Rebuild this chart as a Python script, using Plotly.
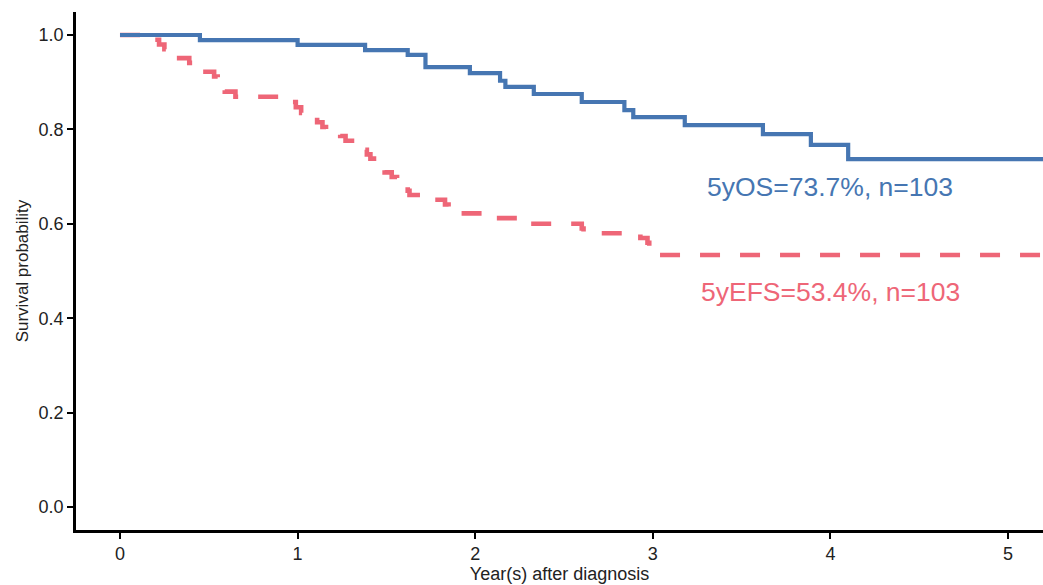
import plotly.graph_objects as go

# Overall survival (Kaplan-Meier steps)
os_time = [0, 0.45, 1.00, 1.38, 1.62, 1.72, 1.97, 2.14, 2.17, 2.33, 2.60, 2.84, 2.89, 3.18, 3.62, 3.89, 4.10, 5.30]
os_surv = [1.0, 0.989, 0.979, 0.968, 0.958, 0.932, 0.919, 0.903, 0.890, 0.875, 0.858, 0.841, 0.826, 0.809, 0.790, 0.767, 0.737, 0.737]

# Event-free survival
efs_time = [0, 0.19, 0.22, 0.25, 0.28, 0.31, 0.39, 0.43, 0.46, 0.53, 0.55, 0.57, 0.59, 0.65,
            0.93, 0.99, 1.02, 1.08, 1.11, 1.14, 1.16, 1.24, 1.27, 1.33, 1.37, 1.39, 1.41, 1.43,
            1.47, 1.49, 1.53, 1.56, 1.60, 1.62, 1.63, 1.75, 1.83, 1.85, 1.92, 2.10, 2.30,
            2.60, 2.61, 2.93, 2.97, 2.98, 2.99, 3.02, 5.30]
efs_surv = [1.0, 0.990, 0.980, 0.970, 0.960, 0.951, 0.941, 0.932, 0.922, 0.912, 0.902, 0.892, 0.880, 0.869,
            0.858, 0.847, 0.835, 0.825, 0.815, 0.805, 0.795, 0.786, 0.776, 0.767, 0.757, 0.747, 0.738, 0.728,
            0.718, 0.709, 0.699, 0.690, 0.680, 0.670, 0.661, 0.651, 0.641, 0.632, 0.622, 0.612, 0.600,
            0.590, 0.580, 0.570, 0.560, 0.550, 0.544, 0.534, 0.534]

x_ticks = [0, 1, 2, 3, 4, 5]
y_ticks = [0.0, 0.2, 0.4, 0.6, 0.8, 1.0]
y_tick_labels = ["0.0", "0.2", "0.4", "0.6", "0.8", "1.0"]

os_label = "5yOS=73.7%, n=103"
efs_label = "5yEFS=53.4%, n=103"

BLUE = "#4676B2"
RED = "#EE6677"
FONT = "Liberation Sans, Arial, sans-serif"

fig = go.Figure()
fig.add_trace(go.Scatter(x=efs_time, y=efs_surv, mode="lines", line_shape="hv",
                         line=dict(color=RED, width=4.6, dash="20px,20px"), showlegend=False))
fig.add_trace(go.Scatter(x=os_time, y=os_surv, mode="lines", line_shape="hv",
                         line=dict(color=BLUE, width=4.2), showlegend=False))

fig.add_annotation(x=4.0, y=0.678, xref="x", yref="y", text=os_label, showarrow=False,
                   font=dict(family=FONT, size=26.5, color=BLUE))
fig.add_annotation(x=4.0, y=0.455, xref="x", yref="y", text=efs_label, showarrow=False,
                   font=dict(family=FONT, size=26.5, color=RED))

fig.update_layout(
    width=1043, height=585,
    margin=dict(l=76, r=0, t=12, b=55, autoexpand=False),
    paper_bgcolor="white", plot_bgcolor="white",
    font=dict(family=FONT, color="#222222"),
    xaxis=dict(range=[-0.2477, 5.197], tickvals=x_ticks, showgrid=False, zeroline=False,
               showline=True, linecolor="black", linewidth=2.5, ticks="outside", ticklen=6,
               tickwidth=2, tickcolor="black", tickfont=dict(size=18, color="#222222"),
               title=dict(text="Year(s) after diagnosis", font=dict(size=18, color="#222222"), standoff=5)),
    yaxis=dict(range=[-0.0487, 1.0487], tickvals=y_ticks, ticktext=y_tick_labels, showgrid=False,
               zeroline=False, showline=True, linecolor="black", linewidth=2.5, ticks="outside",
               ticklen=6, tickwidth=2, tickcolor="black", tickfont=dict(size=18, color="#222222"),
               title=dict(text="Survival probability", font=dict(size=17, color="#222222"), standoff=6)),
)

fig.write_html("out.html", config={"displayModeBar": False},
               post_script="document.body.style.margin='0';document.body.style.overflow='hidden';")
